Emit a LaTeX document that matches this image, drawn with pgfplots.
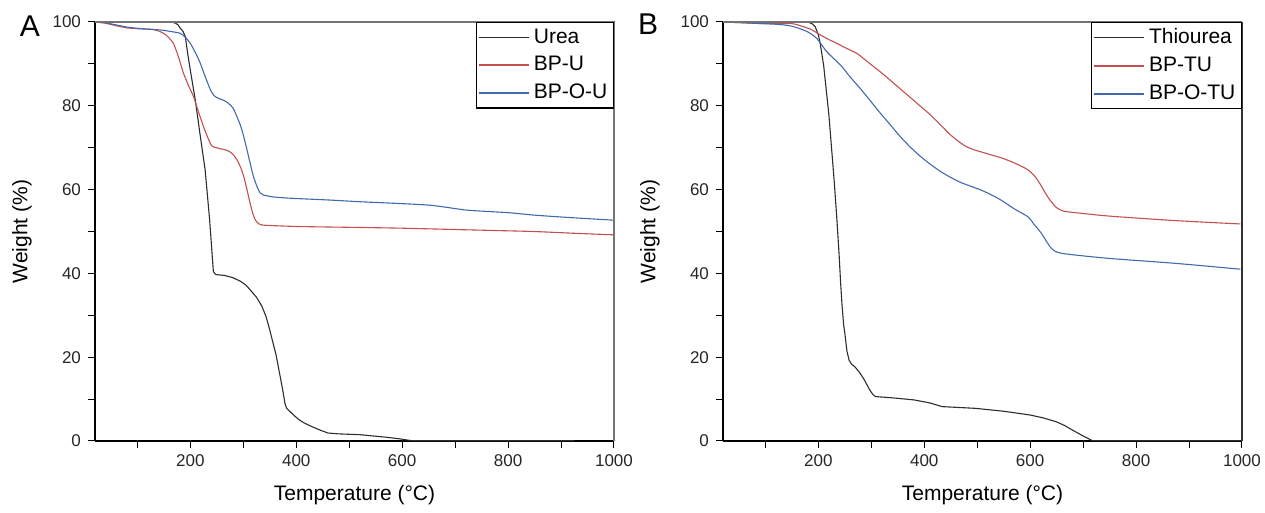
\documentclass[border=0pt]{standalone}
\usepackage{fontspec}
\setmainfont{Liberation Sans}
\usepackage{pgfplots}
\pgfplotsset{compat=1.18}
\definecolor{cblk}{RGB}{45,45,45}
\definecolor{cred}{RGB}{195,80,80}
\definecolor{cblu}{RGB}{65,105,175}
\pgfplotsset{tga/.style={
  scale only axis, width=259.5pt, height=209.5pt,
  xmin=20, xmax=1000, ymin=0, ymax=100,
  axis lines=left, axis line style={-, line width=0.6pt, black},
  tick align=outside, major tick length=3.5pt,
  tick style={black, line width=0.5pt},
  /pgf/number format/assume math mode=true,
  xtick={100,200,...,1000}, xticklabels={,200,,400,,600,,800,,1000},
  ytick={0,10,...,100}, yticklabels={0,,20,,40,,60,,80,,100},
  ticklabel style={font=\fontsize{8.5}{10}\selectfont, text=black!85},
  xlabel={Temperature (°C)}, ylabel={Weight (\%)},
  label style={font=\fontsize{10.5}{12}\selectfont},
  xlabel style={at={(axis description cs:0.5,-0.129)}, anchor=center},
  ylabel style={at={(axis description cs:-0.1407,0.5)}, anchor=center},
  legend cell align=left,
  legend style={at={(1,1)}, anchor=north east, draw=black, line width=0.6pt,
    font=\fontsize{10.5}{12}\selectfont, inner sep=1pt, row sep=1.2pt},
  legend image code/.code={\draw[#1, line width=0.7pt] (0pt,0pt) -- (25pt,0pt);},
  every axis plot/.append style={line width=0.55pt},
  clip=false}}
\begin{document}
\begin{tikzpicture}
\path[use as bounding box] (0,0) rectangle (632.5pt,256.5pt);
\begin{axis}[tga, at={(47.5pt,36pt)}, anchor=south west]
\addplot[color=cblk] coordinates {
(150,100)(165,100)(172,99.7)(177,99.3)(181,98.5)(186,97.8)(190.6,96.5)(195,92.5)(200,88.5)(209.4,81.4)(219,72.6)(228,64.7)(236.5,52.7)(241,44.8)(243.5,40.5)(247,39.8)(250,39.7)(265,39.5)(280,39)(295,38.1)(305,37.2)(315,35.8)(325,34.3)(335,32.2)(343,29.7)(350,26.5)(356,23.5)(362,20.5)(368,16.5)(374,12.5)(379,8.8)(382,7.8)(395,6.2)(405,5.1)(415,4.3)(430,3.4)(445,2.6)(460,1.9)(480,1.7)(500,1.6)(521,1.5)(545,1.2)(570,0.9)(596,0.5)(611,0.2)(620,0.05)(925,0.05)};
\addlegendentry{Urea}
\addplot[color=cred, smooth, tension=0.4] coordinates {
(20,100)(40,99.7)(60,99.1)(80,98.6)(100,98.4)(130,98.2)(143,97.7)(155,96.8)(168,94.9)(178,91.5)(187,87.8)(196,85)(206,82.2)(215,78.7)(225,75)(233,72.4)(241,70.4)(255,69.8)(269,69.4)(280,68.5)(288,67.1)(295,65.3)(301,63.1)(307,60)(313,56.7)(318,54.3)(323,52.7)(330,51.8)(340,51.5)(400,51.2)(500,51.0)(596,50.8)(722,50.4)(847,50.0)(920,49.6)(1000,49.2)};
\addlegendentry{BP-U}
\addplot[color=cblu, smooth, tension=0.4] coordinates {
(20,100)(40,99.8)(60,99.3)(80,98.8)(100,98.5)(120,98.3)(143,98.1)(160,97.8)(181,97.3)(191,96.3)(200,94.9)(210,92.6)(219,90.1)(228,87)(238,83.8)(245,82.4)(253,81.8)(263,81.3)(272,80.6)(281,79.4)(288,77.4)(295,75.2)(301,72.6)(307,69.5)(313,66.3)(319,63.2)(326,60.7)(332,59.2)(338,58.7)(360,58.2)(395,57.9)(464,57.5)(521,57.1)(650,56.3)(722,55.1)(800,54.5)(850,53.9)(920,53.3)(1000,52.7)};
\addlegendentry{BP-O-U}
\draw[black!55, line width=0.6pt] (rel axis cs:0,1) -- (rel axis cs:1,1) -- (rel axis cs:1,0);
\end{axis}
\begin{axis}[tga, at={(361.5pt,36pt)}, anchor=south west]
\addplot[color=cblk] coordinates {
(180,100)(188,99.6)(194,98.9)(200,97)(204,94.5)(210,89.7)(220,77.8)(230,62)(235,53)(239,45)(242,38)(245,32)(248,27.5)(250,25.8)(254,21.5)(258,19.3)(263,18.3)(269,17.7)(277,16.5)(285,15)(291,13.6)(297,12.2)(303,11.1)(308,10.6)(340,10.3)(381,9.8)(410,9.1)(434,8.2)(496,7.8)(550,7.1)(600,6.2)(625,5.5)(649,4.6)(665,3.7)(680,2.6)(700,1.2)(718,0.05)(998,0.05)};
\addlegendentry{Thiourea}
\addplot[color=cred, smooth, tension=0.4] coordinates {
(20,100)(60,99.8)(100,99.6)(150,99.6)(166,99.1)(185,98.3)(204,96.9)(220,95.8)(235,94.9)(255,93.6)(273,92.5)(286,91.2)(305,89.3)(320,87.8)(346,85.0)(368,82.6)(390,80.2)(412,77.8)(431,75.4)(450,73)(469,71.1)(482,70.1)(494,69.5)(510,68.9)(526,68.3)(545,67.6)(564,66.7)(583,65.6)(596,64.7)(608,63.3)(618,61.5)(633,58.3)(645,56.3)(652,55.5)(662,54.9)(671,54.7)(747,53.7)(874,52.6)(997,51.8)};
\addlegendentry{BP-TU}
\addplot[color=cblu, smooth, tension=0.4] coordinates {
(20,100)(60,99.8)(96,99.6)(128,99.4)(153,98.9)(179,97.7)(197,96.1)(216,92.9)(242,89.7)(260,86.9)(280,84)(300,80.9)(318,78.1)(337,75.3)(355,72.6)(374,70.1)(393,67.9)(412,66.0)(431,64.3)(450,62.9)(469,61.7)(488,60.8)(507,59.9)(526,58.8)(545,57.5)(570,55.4)(596,53.5)(608,51.6)(621,49.6)(640,46)(659,44.8)(747,43.6)(874,42.4)(997,41)};
\addlegendentry{BP-O-TU}
\draw[black!55, line width=0.6pt] (rel axis cs:0,1) -- (rel axis cs:1,1);
\draw[black!80, line width=0.6pt] (rel axis cs:1,1) -- (rel axis cs:1,0);
\end{axis}
\node[font=\fontsize{15}{17}\selectfont] at (15pt,243.5pt) {A};
\node[font=\fontsize{15}{17}\selectfont] at (324pt,244.5pt) {B};
\end{tikzpicture}
\end{document}
